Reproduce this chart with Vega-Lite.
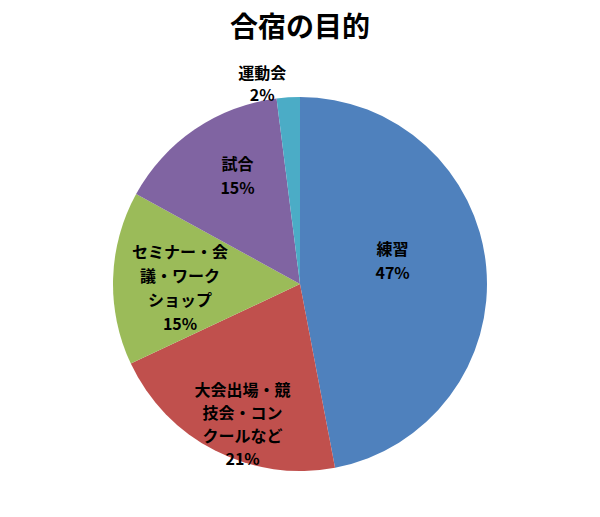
{
  "$schema": "https://vega.github.io/schema/vega-lite/v6.json",
  "width": 600,
  "height": 466,
  "padding": {"top": 15, "left": 0, "right": 0, "bottom": 0},
  "background": "white",
  "title": {"text": "合宿の目的", "fontSize": 28, "font": "Noto Sans CJK JP", "fontWeight": "bold", "color": "#000000", "anchor": "middle", "offset": 8},
  "data": {"values": [
    {"cat": "練習", "value": 47, "order": 1, "label": "練習\n47%"},
    {"cat": "大会出場・競技会・コンクールなど", "value": 21, "order": 2, "label": "大会出場・競\n技会・コン\nクールなど\n21%"},
    {"cat": "セミナー・会議・ワークショップ", "value": 15, "order": 3, "label": "セミナー・会\n議・ワーク\nショップ\n15%"},
    {"cat": "試合", "value": 15, "order": 4, "label": "試合\n15%"},
    {"cat": "運動会", "value": 2, "order": 5, "label": "運動会\n2%"}
  ]},
  "encoding": {
    "theta": {"field": "value", "type": "quantitative", "stack": true},
    "order": {"field": "order", "type": "quantitative"}
  },
  "layer": [
    {
      "mark": {"type": "arc", "outerRadius": 187},
      "encoding": {
        "color": {"field": "cat", "type": "nominal", "legend": null,
          "scale": {"domain": ["練習", "大会出場・競技会・コンクールなど", "セミナー・会議・ワークショップ", "試合", "運動会"],
                    "range": ["#4F81BD", "#C0504D", "#9BBB59", "#8064A2", "#4BACC6"]}}
      }
    },
    {
      "mark": {"type": "text", "radius": 93, "dy": -25, "font": "Noto Sans CJK JP", "fontSize": 16, "fontWeight": "bold", "lineBreak": "\n", "lineHeight": 24, "color": "#000000", "align": "center", "baseline": "middle"},
      "encoding": {"text": {"condition": {"test": "datum.order == 1", "field": "label"}, "value": ""}}
    },
    {
      "mark": {"type": "text", "radius": 122, "dx": -2, "dy": -2, "font": "Noto Sans CJK JP", "fontSize": 16, "fontWeight": "bold", "lineBreak": "\n", "lineHeight": 23, "color": "#000000", "align": "center", "baseline": "middle"},
      "encoding": {"text": {"condition": {"test": "datum.order == 2", "field": "label"}, "value": ""}}
    },
    {
      "mark": {"type": "text", "radius": 120, "dy": -27, "font": "Noto Sans CJK JP", "fontSize": 16, "fontWeight": "bold", "lineBreak": "\n", "lineHeight": 24, "color": "#000000", "align": "center", "baseline": "middle"},
      "encoding": {"text": {"condition": {"test": "datum.order == 3", "field": "label"}, "value": ""}}
    },
    {
      "mark": {"type": "text", "radius": 120, "dx": 5, "dy": -20, "font": "Noto Sans CJK JP", "fontSize": 16, "fontWeight": "bold", "lineBreak": "\n", "lineHeight": 24, "color": "#000000", "align": "center", "baseline": "middle"},
      "encoding": {"text": {"condition": {"test": "datum.order == 4", "field": "label"}, "value": ""}}
    },
    {
      "mark": {"type": "text", "radius": 204, "dx": -25, "dy": -6, "font": "Noto Sans CJK JP", "fontSize": 16, "fontWeight": "bold", "lineBreak": "\n", "lineHeight": 22, "color": "#000000", "align": "center", "baseline": "middle"},
      "encoding": {"text": {"condition": {"test": "datum.order == 5", "field": "label"}, "value": ""}}
    }
  ],
  "view": {"stroke": null}
}
